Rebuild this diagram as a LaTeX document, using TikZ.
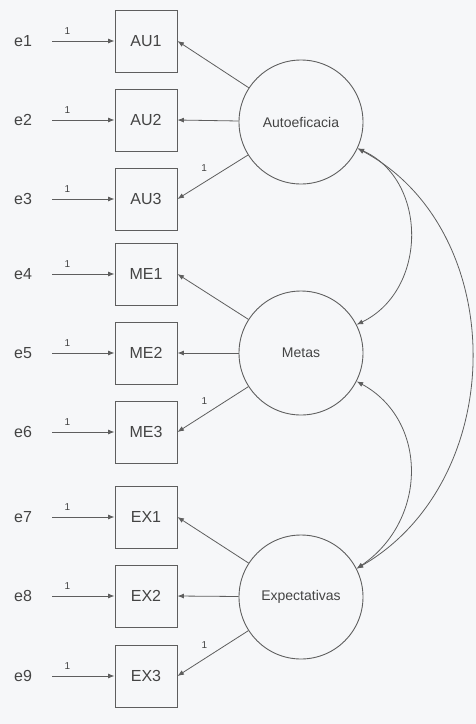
\documentclass[tikz,border=0pt]{standalone}
\usepackage{fontspec}
\setmainfont{Liberation Sans}
\usetikzlibrary{arrows.meta}
\definecolor{linec}{HTML}{5E5E5E}
\definecolor{textc}{HTML}{444444}
\definecolor{bgc}{HTML}{F6F7F9}
\begin{document}
\begin{tikzpicture}[x=1pt,y=-1pt,
  obs/.style={draw=linec, line width=0.9pt, minimum width=62pt, minimum height=62pt, inner sep=0pt, text=textc, font=\fontsize{16}{16}\selectfont},
  lat/.style={circle, draw=linec, line width=0.9pt, minimum size=124pt, inner sep=0pt, text=textc, font=\fontsize{14}{14}\selectfont},
  errl/.style={text=textc, font=\fontsize{16}{16}\selectfont, inner sep=1pt},
  arr/.style={draw=linec, line width=0.8pt, -{Latex[length=6.5pt,width=5pt]}},
  cov/.style={draw=linec, line width=0.8pt, {Latex[length=6.5pt,width=5pt]}-{Latex[length=6.5pt,width=5pt]}},
  one/.style={text=textc, font=\fontsize{10}{10}\selectfont, inner sep=1pt}]
\fill[bgc] (0,0) rectangle (476,724);
\useasboundingbox (0,0) rectangle (476,724);
% observed
\node[obs] (AU1) at (146,41) {AU1};
\node[obs] (AU2) at (146,120) {AU2};
\node[obs] (AU3) at (146,199) {AU3};
\node[obs] (ME1) at (146,274) {ME1};
\node[obs] (ME2) at (146,353) {ME2};
\node[obs] (ME3) at (146,432) {ME3};
\node[obs] (EX1) at (146,517) {EX1};
\node[obs] (EX2) at (146,596) {EX2};
\node[obs] (EX3) at (146,676) {EX3};
% errors
\foreach \i/\b in {1/AU1,2/AU2,3/AU3,4/ME1,5/ME2,6/ME3,7/EX1,8/EX2,9/EX3}{
  \node[errl, anchor=west] (e\i) at (13,0 |- \b) {e\i};
  \draw[arr, shorten <=19pt] (e\i.east) -- (\b.west) node[one, pos=0.42, above=5pt] {1};
}
% latent
\node[lat] (A) at (301,122) {Autoeficacia};
\node[lat] (M) at (301,353) {Metas};
\node[lat] (E) at (301,597) {Expectativas};
% loadings
\draw[arr] (A) -- (AU1.east);
\draw[arr] (A) -- (AU2.east);
\draw[arr] (A) -- (AU3.east) node[one, pos=0.62, above=9pt] {1};
\draw[arr] (M) -- (ME1.east);
\draw[arr] (M) -- (ME2.east);
\draw[arr] (M) -- (ME3.east) node[one, pos=0.62, above=9pt] {1};
\draw[arr] (E) -- (EX1.east);
\draw[arr] (E) -- (EX2.east);
\draw[arr] (E) -- (EX3.east) node[one, pos=0.62, above=9pt] {1};
% covariances
\draw[cov] (A.-25) .. controls (428,180) and (428,290) .. (M.27);
\draw[cov] (M.-27) .. controls (428,420) and (428,520) .. (E.27);
\draw[cov] (A.-25) .. controls (510,230) and (510,480) .. (E.27);
\end{tikzpicture}
\end{document}
